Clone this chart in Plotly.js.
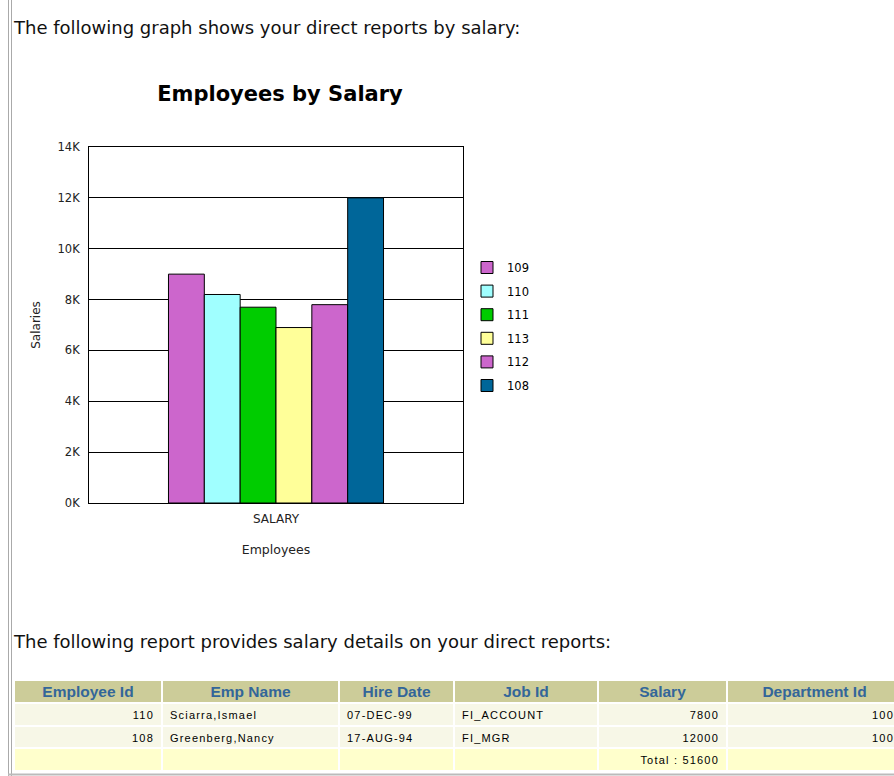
<!DOCTYPE html>
<html>
<head>
<meta charset="utf-8">
<script src="https://cdn.plot.ly/plotly-3.0.1.min.js"></script>
<style>
html, body { margin: 0; padding: 0; background: #fff; overflow: hidden; }
#chart { width: 910px; height: 776px; }
#chart g.column-block:not(#header) text.cell-text { letter-spacing: 1.2px; }
#chart g.column-block#header text.cell-text { translate: 0px -2.5px; }
</style>
</head>
<body>
<div id="chart"></div>
<script>
// ---- data ----
const categories = ['SALARY'];
const seriesNames = ['109', '110', '111', '113', '112', '108'];
const seriesValues = [9000, 8200, 7700, 6900, 7800, 12000];
const yTickVals = [0, 2000, 4000, 6000, 8000, 10000, 12000, 14000];
const yTickText = ['0K', '2K', '4K', '6K', '8K', '10K', '12K', '14K'];

const tableHeaders = ['Employee Id', 'Emp Name', 'Hire Date', 'Job Id', 'Salary', 'Department Id'];
const employeeIds = ['110', '108', ''];
const empNames = ['Sciarra,Ismael', 'Greenberg,Nancy', ''];
const hireDates = ['07-DEC-99', '17-AUG-94', ''];
const jobIds = ['FI_ACCOUNT', 'FI_MGR', ''];
const salaries = ['7800', '12000', 'Total : 51600'];
const departmentIds = ['100', '100', ''];

const introText = 'The following graph shows your direct reports by salary:';
const reportText = 'The following report provides salary details on your direct reports:';
const chartTitle = 'Employees by Salary';

// ---- styles ----
const seriesColors = ['#CC66CC', '#A0FFFF', '#00CC00', '#FFFF99', '#CC66CC', '#006699'];
const W = 910, H = 776;
const ARIAL = 'Liberation Sans, Arial, sans-serif';
const WIDE = 'DejaVu Sans, Verdana, sans-serif';
const px = v => v / W;
const py = v => 1 - v / H;
// non-breaking spaces keep table rows at their fixed height
const nb = s => s.replace(/ /g, '\u00A0');

const traces = seriesNames.map((name, i) => ({
  type: 'bar',
  name: name,
  legendgroup: 'g' + i,
  x: categories,
  y: [seriesValues[i]],
  marker: { color: seriesColors[i], line: { color: '#000', width: 1 } },
  hoverinfo: 'skip'
}));

traces.push({
  type: 'table',
  domain: { x: [px(14), px(902)], y: [py(773), py(680)] },
  columnwidth: [148, 177, 115, 144, 129, 175],
  header: {
    values: tableHeaders.map(nb),
    align: 'center',
    height: 23,
    fill: { color: '#CCCC99' },
    line: { color: '#FFFFFF', width: 2 },
    font: { family: ARIAL, size: 15.5, color: '#336699', weight: 'bold' }
  },
  cells: {
    values: [employeeIds, empNames, hireDates, jobIds, salaries.map(nb), departmentIds],
    align: ['right', 'left', 'left', 'left', 'right', 'right'],
    height: 22.5,
    fill: { color: [['#F7F7E7', '#F7F7E7', '#FFFFCC']] },
    line: { color: '#FFFFFF', width: 2 },
    font: { family: ARIAL, size: 11, color: '#000' }
  }
});

const layout = {
  width: W, height: H,
  margin: { l: 0, r: 0, t: 0, b: 0 },
  paper_bgcolor: '#fff', plot_bgcolor: '#fff',
  font: { family: WIDE, color: '#000' },
  barmode: 'group', bargap: 0.425, bargroupgap: 0,
  showlegend: true,
  title: {
    text: '<b>' + chartTitle + '</b>',
    font: { family: WIDE, size: 21, color: '#000' },
    xref: 'paper', yref: 'paper',
    x: px(280), y: py(94), xanchor: 'center', yanchor: 'middle'
  },
  xaxis: {
    domain: [px(89), px(463)],
    type: 'category',
    showline: true, mirror: true, linecolor: '#000', linewidth: 1,
    showgrid: false, ticks: '',
    tickfont: { family: WIDE, size: 12, color: '#222' },
    ticklabelstandoff: 5,
    title: { text: 'Employees', font: { family: WIDE, size: 12.5, color: '#222' }, standoff: 19 },
    fixedrange: true
  },
  yaxis: {
    domain: [py(503), py(147)],
    range: [0, 14000],
    tickvals: yTickVals, ticktext: yTickText,
    showline: true, mirror: true, linecolor: '#000', linewidth: 1,
    showgrid: true, gridcolor: '#000', gridwidth: 1,
    zeroline: false, ticks: '',
    tickfont: { family: WIDE, size: 11.5, color: '#222' },
    ticklabelstandoff: 6,
    title: { text: 'Salaries', font: { family: WIDE, size: 12, color: '#222' }, standoff: 14 },
    fixedrange: true
  },
  legend: {
    x: px(467), y: py(253), xanchor: 'left', yanchor: 'top',
    font: { family: WIDE, size: 11.5, color: '#000' },
    bgcolor: 'rgba(0,0,0,0)',
    tracegroupgap: 4.6
  },
  annotations: [
    { text: introText, xref: 'paper', yref: 'paper', x: px(11), y: py(28), xanchor: 'left', yanchor: 'middle', showarrow: false, font: { family: WIDE, size: 18, color: '#111' } },
    { text: reportText, xref: 'paper', yref: 'paper', x: px(11), y: py(641), xanchor: 'left', yanchor: 'middle', showarrow: false, font: { family: WIDE, size: 18, color: '#111' } }
  ],
  shapes: [
    { type: 'line', xref: 'paper', yref: 'paper', x0: px(8.5), x1: px(8.5), y0: 0, y1: 1, line: { color: '#AAAAAA', width: 1 } },
    { type: 'line', xref: 'paper', yref: 'paper', x0: px(11.5), x1: px(11.5), y0: 0, y1: 1, line: { color: '#AAAAAA', width: 1 } },
    { type: 'line', xref: 'paper', yref: 'paper', x0: px(8), x1: 1, y0: py(774.5), y1: py(774.5), line: { color: '#BBBBBB', width: 2 } }
  ]
};

Plotly.newPlot('chart', traces, layout, { displayModeBar: false, staticPlot: true });
</script>
</body>
</html>
